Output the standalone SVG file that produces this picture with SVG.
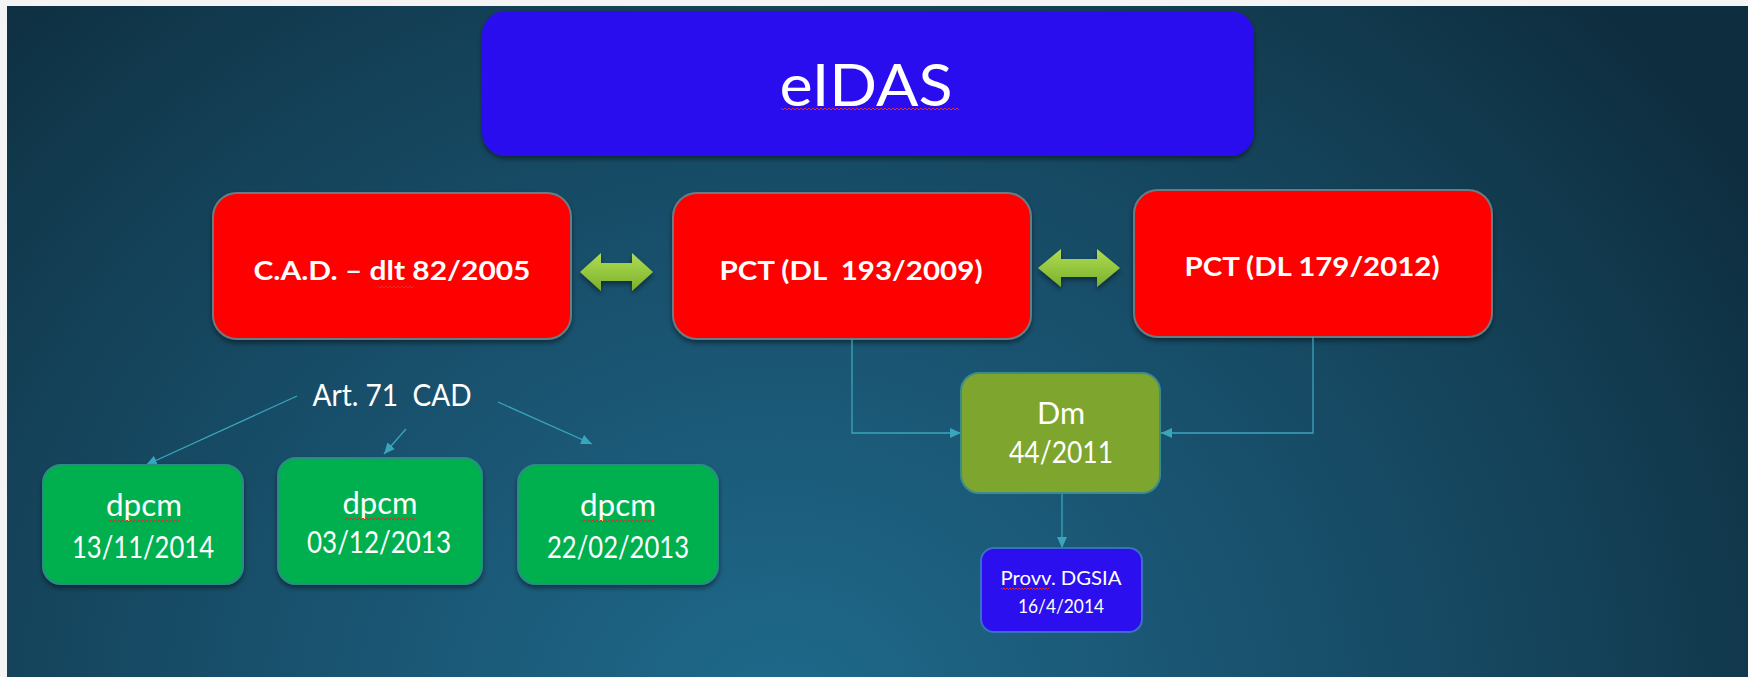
<svg xmlns="http://www.w3.org/2000/svg" width="1748" height="677" viewBox="0 0 1748 677">
<defs>
<radialGradient id="bg" gradientUnits="userSpaceOnUse" cx="780" cy="720" r="1150" gradientTransform="translate(780 720) scale(1 0.9) translate(-780 -720)">
<stop offset="0" stop-color="#1f6a8b"/>
<stop offset="0.35" stop-color="#1a5674"/>
<stop offset="0.7" stop-color="#144259"/>
<stop offset="1" stop-color="#0e2d3e"/>
</radialGradient>
<linearGradient id="ga" x1="0" y1="0" x2="0" y2="1">
<stop offset="0" stop-color="#aedd52"/>
<stop offset="1" stop-color="#7cb02c"/>
</linearGradient>
<filter id="sh" x="-10%" y="-10%" width="120%" height="130%">
<feDropShadow dx="0" dy="3" stdDeviation="2.5" flood-color="#000" flood-opacity="0.45"/>
</filter>
<marker id="ah" markerUnits="userSpaceOnUse" markerWidth="11" markerHeight="10" refX="11" refY="5" orient="auto">
<path d="M0,0 L11,5 L0,10 Z" fill="#3aa6bc"/>
</marker>
<style>
.t{font-family:Lato,"Open Sans","Liberation Sans",sans-serif;fill:#ffffff;text-anchor:middle}
.b{font-weight:bold}
.red{fill:#ff0000;stroke:#6b7b83;stroke-width:2}
.grn{fill:#00b050;stroke:#2a8d84;stroke-width:2}
.con{fill:none;stroke:#3aa6bc;stroke-width:1.3}
.sq{fill:none;stroke:#d83030;stroke-width:1}
</style>
</defs>
<rect x="0" y="0" width="1748" height="677" fill="#f4f4f4"/>
<rect x="7" y="6" width="1741" height="671" fill="url(#bg)"/>

<g id="eidas">
<rect x="482" y="11" width="772" height="145" rx="24" fill="#2b0fef" filter="url(#sh)"/>
<text class="t" x="866" y="106" font-size="58" textLength="173" lengthAdjust="spacingAndGlyphs">eIDAS</text>
<path class="sq" stroke="#b060c0" d="M781,108 l2,2 l2,-2 l2,2 l2,-2 l2,2 l2,-2 l2,2 l2,-2 l2,2 l2,-2 l2,2 l2,-2 l2,2 l2,-2 l2,2 l2,-2 l2,2 l2,-2 l2,2 l2,-2 l2,2 l2,-2 l2,2 l2,-2 l2,2 l2,-2 l2,2 l2,-2 l2,2 l2,-2 l2,2 l2,-2 l2,2 l2,-2 l2,2 l2,-2 l2,2 l2,-2 l2,2 l2,-2 l2,2 l2,-2 l2,2 l2,-2 l2,2 l2,-2 l2,2 l2,-2 l2,2 l2,-2 l2,2 l2,-2 l2,2 l2,-2 l2,2 l2,-2 l2,2 l2,-2 l2,2 l2,-2 l2,2 l2,-2 l2,2 l2,-2 l2,2 l2,-2 l2,2 l2,-2 l2,2 l2,-2 l2,2 l2,-2 l2,2 l2,-2 l2,2 l2,-2 l2,2 l2,-2 l2,2 l2,-2 l2,2 l2,-2 l2,2 l2,-2 l2,2 l2,-2 l2,2 l2,-2 l2,2"/>
</g>

<g id="cad">
<rect class="red" x="213" y="193" width="358" height="146" rx="24" filter="url(#sh)"/>
<text class="t b" x="392" y="280" font-size="27" textLength="277" lengthAdjust="spacingAndGlyphs">C.A.D. – dlt 82/2005</text>
<path class="sq" d="M378,286 l2,2 l2,-2 l2,2 l2,-2 l2,2 l2,-2 l2,2 l2,-2 l2,2 l2,-2 l2,2 l2,-2 l2,2 l2,-2 l2,2 l2,-2 l2,2 l2,-2"/>
</g>

<g id="pct2009">
<rect class="red" x="673" y="193" width="358" height="146" rx="24" filter="url(#sh)"/>
<text class="t b" x="851" y="280" font-size="27" textLength="263" lengthAdjust="spacingAndGlyphs" xml:space="preserve">PCT (DL  193/2009)</text>
</g>

<g id="pct2012">
<rect class="red" x="1134" y="190" width="358" height="147" rx="24" filter="url(#sh)"/>
<text class="t b" x="1312" y="276" font-size="27" textLength="255" lengthAdjust="spacingAndGlyphs">PCT (DL 179/2012)</text>
</g>

<g id="arrow1">
<path d="M580,272 L601,253 L601,263 L632,263 L632,253 L653,272 L632,291 L632,281 L601,281 L601,291 Z" fill="url(#ga)" filter="url(#sh)"/>
</g>
<g id="arrow2">
<path d="M1038,268 L1061,249 L1061,259 L1097,259 L1097,249 L1120,268 L1097,287 L1097,277 L1061,277 L1061,287 Z" fill="url(#ga)" filter="url(#sh)"/>
</g>

<g id="art71">
<text class="t" x="392" y="406" font-size="31" textLength="159" lengthAdjust="spacingAndGlyphs" xml:space="preserve">Art. 71  CAD</text>
</g>

<g id="connectors">
<line class="con" x1="297" y1="396" x2="146" y2="465" marker-end="url(#ah)"/>
<line class="con" x1="406" y1="429" x2="384" y2="454" marker-end="url(#ah)"/>
<line class="con" x1="498" y1="402" x2="592" y2="444" marker-end="url(#ah)"/>
<polyline class="con" points="852,339 852,433 961,433" marker-end="url(#ah)"/>
<polyline class="con" points="1313,337 1313,433 1161,433" marker-end="url(#ah)"/>
<line class="con" x1="1062" y1="493" x2="1062" y2="548" marker-end="url(#ah)"/>
</g>

<g id="dpcm1">
<rect class="grn" x="43" y="465" width="200" height="119" rx="18" filter="url(#sh)"/>
<text class="t" x="144" y="516" font-size="30" textLength="76" lengthAdjust="spacingAndGlyphs">dpcm</text>
<path class="sq" d="M107,520 l2,2 l2,-2 l2,2 l2,-2 l2,2 l2,-2 l2,2 l2,-2 l2,2 l2,-2 l2,2 l2,-2 l2,2 l2,-2 l2,2 l2,-2 l2,2 l2,-2 l2,2 l2,-2 l2,2 l2,-2 l2,2 l2,-2 l2,2 l2,-2 l2,2 l2,-2 l2,2 l2,-2 l2,2 l2,-2 l2,2 l2,-2 l2,2 l2,-2"/>
<text class="t" x="143" y="558" font-size="30" textLength="142" lengthAdjust="spacingAndGlyphs">13/11/2014</text>
</g>

<g id="dpcm2">
<rect class="grn" x="278" y="458" width="204" height="126" rx="18" filter="url(#sh)"/>
<text class="t" x="380" y="514" font-size="30" textLength="75" lengthAdjust="spacingAndGlyphs">dpcm</text>
<path class="sq" d="M343,518 l2,2 l2,-2 l2,2 l2,-2 l2,2 l2,-2 l2,2 l2,-2 l2,2 l2,-2 l2,2 l2,-2 l2,2 l2,-2 l2,2 l2,-2 l2,2 l2,-2 l2,2 l2,-2 l2,2 l2,-2 l2,2 l2,-2 l2,2 l2,-2 l2,2 l2,-2 l2,2 l2,-2 l2,2 l2,-2 l2,2 l2,-2 l2,2 l2,-2"/>
<text class="t" x="379" y="553" font-size="30" textLength="144" lengthAdjust="spacingAndGlyphs">03/12/2013</text>
</g>

<g id="dpcm3">
<rect class="grn" x="518" y="465" width="200" height="119" rx="18" filter="url(#sh)"/>
<text class="t" x="618" y="516" font-size="30" textLength="76" lengthAdjust="spacingAndGlyphs">dpcm</text>
<path class="sq" d="M581,520 l2,2 l2,-2 l2,2 l2,-2 l2,2 l2,-2 l2,2 l2,-2 l2,2 l2,-2 l2,2 l2,-2 l2,2 l2,-2 l2,2 l2,-2 l2,2 l2,-2 l2,2 l2,-2 l2,2 l2,-2 l2,2 l2,-2 l2,2 l2,-2 l2,2 l2,-2 l2,2 l2,-2 l2,2 l2,-2 l2,2 l2,-2 l2,2 l2,-2"/>
<text class="t" x="618" y="558" font-size="30" textLength="142" lengthAdjust="spacingAndGlyphs">22/02/2013</text>
</g>

<g id="dm">
<rect x="961" y="373" width="199" height="120" rx="18" fill="#7ea52e" stroke="#3d8c8a" stroke-width="2"/>
<text class="t" x="1061" y="424" font-size="31" textLength="48" lengthAdjust="spacingAndGlyphs">Dm</text>
<text class="t" x="1061" y="463" font-size="31" textLength="104" lengthAdjust="spacingAndGlyphs">44/2011</text>
</g>

<g id="dgsia">
<rect x="981" y="548" width="161" height="84" rx="13" fill="#2b0fef" stroke="#3b6fc0" stroke-width="2"/>
<text class="t" x="1061" y="585" font-size="19" textLength="121" lengthAdjust="spacingAndGlyphs">Provv. DGSIA</text>
<path class="sq" d="M1001,588 l1.5,1.5 l1.5,-1.5 l1.5,1.5 l1.5,-1.5 l1.5,1.5 l1.5,-1.5 l1.5,1.5 l1.5,-1.5 l1.5,1.5 l1.5,-1.5 l1.5,1.5 l1.5,-1.5 l1.5,1.5 l1.5,-1.5 l1.5,1.5 l1.5,-1.5 l1.5,1.5 l1.5,-1.5 l1.5,1.5 l1.5,-1.5 l1.5,1.5 l1.5,-1.5 l1.5,1.5 l1.5,-1.5 l1.5,1.5 l1.5,-1.5 l1.5,1.5 l1.5,-1.5 l1.5,1.5 l1.5,-1.5 l1.5,1.5 l1.5,-1.5"/>
<text class="t" x="1061" y="613" font-size="19" textLength="86" lengthAdjust="spacingAndGlyphs">16/4/2014</text>
</g>
</svg>
